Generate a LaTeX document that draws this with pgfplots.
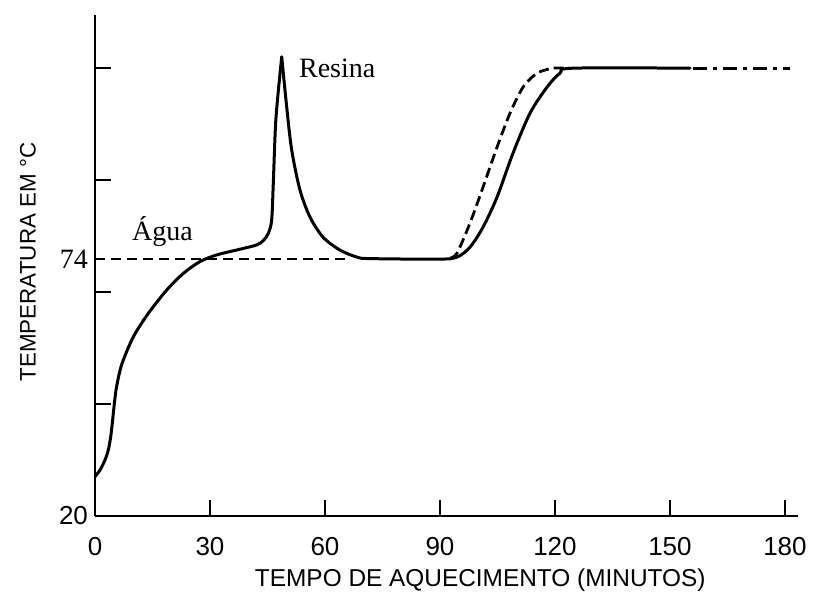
\documentclass[border=0pt]{standalone}
\usepackage{pgfplots}
\pgfplotsset{compat=1.18}
\usepackage{fontspec}
\setmainfont{Liberation Serif}
\newfontfamily\sansf{Liberation Sans}

\begin{document}
\begin{tikzpicture}
\begin{axis}[
    scale only axis,
    width=351.5pt, height=250.5pt,
    xmin=0, xmax=183.4,
    ymin=20, ymax=125.3,
    axis lines=left,
    axis line style={-, line width=1.3pt},
    tick align=inside,
    major tick length=8pt,
    tick style={line width=1.2pt, black},
    xtick={0,30,60,90,120,150,180},
    xticklabels={0,30,60,90,120,150,180},
    xticklabel style={font=\sansf\fontsize{13}{15}\selectfont, yshift=-7pt},
    ytick={43.53,67.06,90.59,114.12},
    yticklabels={},
    extra y ticks={20,74},
    extra y tick labels={{\sansf\fontsize{13}{15}\selectfont 20},{\fontsize{14}{16}\selectfont 74}},
    extra y tick style={major tick length=0pt},
    xlabel={TEMPO DE AQUECIMENTO (MINUTOS)},
    xlabel style={font=\sansf\fontsize{12.2}{14}\selectfont, at={(rel axis cs:0.548,-0.128)}, anchor=center},
    ylabel={TEMPERATURA EM °C},
    ylabel style={font=\sansf\fontsize{11.2}{13}\selectfont, at={(rel axis cs:-0.0953,0.507)}, anchor=center},
    clip=false,
]
% Agua (linha tracejada a 74 graus)
\addplot[black, line width=1.4pt, dash pattern=on 5pt off 3pt] coordinates {
    (0,74) (66.5,74)
};
% curva da resina: subida ate o pico
\addplot[black, line width=1.5pt, line cap=round, smooth, tension=0.5] coordinates {
    (0,28.26) (1.30,29.66) (2.61,31.76) (3.47,33.87) (4.10,36.66)
    (4.51,39.47) (4.96,42.96) (5.48,46.47) (6.34,49.97) (7.38,52.77)
    (10.00,57.66) (13.91,62.60) (18.70,67.48) (23.04,70.99) (27.39,73.47)
    (31.75,74.87) (37.83,76.07) (42.18,76.97) (43.90,77.88) (45.22,79.42)
    (46.09,82.23) (46.52,90.0) (47.20,103.5) (48.71,116.49)
};
% curva da resina: descida do pico e subida final
\addplot[black, line width=1.5pt, line cap=round, smooth, tension=0.5] coordinates {
    (48.71,116.49) (50.01,105.99)
    (51.32,96.89) (53.48,88.49) (56.09,82.82) (59.48,78.61) (63.92,75.88)
    (68.35,74.41) (71.75,74.10) (90.01,73.99) (94.44,74.41) (97.83,76.51)
    (101.23,80.71) (104.88,87.02) (109.05,96.26) (113.49,104.66) (117.92,110.13)
    (121.32,113.07) (124.71,114.12) (155.23,114.12)
};
% subida da agua
\addplot[black, line width=1.4pt, dash pattern=on 5pt off 2.5pt, smooth, tension=0.45] coordinates {
    (92.62,74.2) (94.44,75.25) (97.83,81.55) (101.23,89.12) (104.88,97.52)
    (108.27,104.66) (111.66,110.13) (115.32,113.07) (119.49,114.12) (123.92,114.12)
};
% prolongamento
\addplot[black, line width=1.5pt, dash pattern=on 7pt off 3pt on 2pt off 3pt] coordinates {
    (156.0,114.12) (181.3,114.12)
};
\node[anchor=base west, font=\fontsize{14}{16}\selectfont] at (axis cs:51.4,112.2) {Resina};
\node[anchor=base west, font=\fontsize{14}{16}\selectfont] at (axis cs:7.83,77.98) {Água};
\coordinate (ll) at (axis cs:0,20);
\coordinate (ur) at (axis cs:183.4,125.3);
\end{axis}
\pgfresetboundingbox
\path[use as bounding box] ([shift={(-47.5pt,-41.5pt)}]ll) rectangle ([shift={(7.5pt,7.5pt)}]ur);
\end{tikzpicture}
\end{document}
